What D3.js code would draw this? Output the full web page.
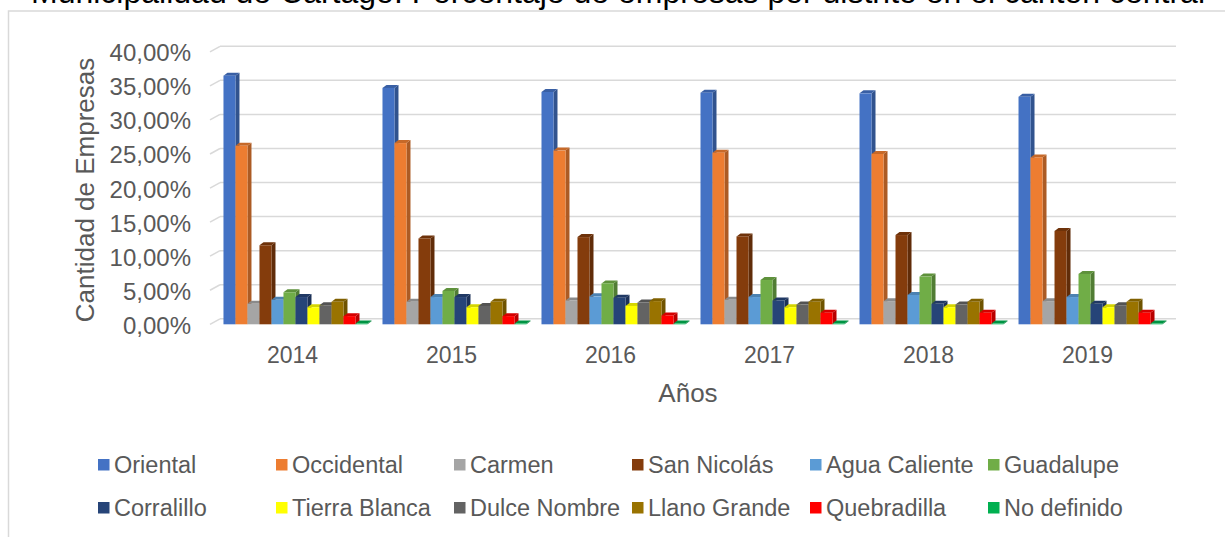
<!DOCTYPE html>
<html>
<head>
<meta charset="utf-8">
<script src="https://cdn.jsdelivr.net/npm/d3@7"></script>
<style>
    body { margin: 0; background: #fff; }
    text { font-family: "Liberation Sans", Arial, sans-serif; fill: #595959; }
</style>
</head>
<body>
<div id="chart"></div>
<script>
var years = ['2014', '2015', '2016', '2017', '2018', '2019'];
var districts = ['Oriental', 'Occidental', 'Carmen', 'San Nicolás', 'Agua Caliente', 'Guadalupe',
    'Corralillo', 'Tierra Blanca', 'Dulce Nombre', 'Llano Grande', 'Quebradilla', 'No definido'];
var colors = ['#4472C4', '#ED7D31', '#A5A5A5', '#843C0C', '#5B9BD5', '#70AD47',
    '#264478', '#FFFF00', '#636363', '#997300', '#FF0000', '#00B050'];

// porcentajes por año (2014..2019)
var oriental     = [36.5, 34.7, 34.1, 34.0, 33.9, 33.4];
var occidental   = [26.2, 26.6, 25.5, 25.2, 25.0, 24.5];
var carmen       = [3.0, 3.3, 3.5, 3.6, 3.4, 3.4];
var sanNicolas   = [11.6, 12.6, 12.8, 12.9, 13.1, 13.7];
var aguaCaliente = [3.6, 4.0, 4.1, 4.0, 4.3, 4.0];
var guadalupe    = [4.7, 4.9, 6.0, 6.5, 7.0, 7.4];
var corralillo   = [4.0, 4.0, 3.9, 3.5, 3.0, 3.0];
var tierraBlanca = [2.5, 2.5, 2.7, 2.5, 2.5, 2.5];
var dulceNombre  = [2.8, 2.7, 3.2, 2.9, 2.9, 2.8];
var llanoGrande  = [3.3, 3.3, 3.4, 3.3, 3.3, 3.3];
var quebradilla  = [1.2, 1.2, 1.3, 1.7, 1.7, 1.7];
var noDefinido   = [0.1, 0.1, 0.1, 0.1, 0.1, 0.1];

var yTicks = [0, 5, 10, 15, 20, 25, 30, 35, 40];

var series = [oriental, occidental, carmen, sanNicolas, aguaCaliente, guadalupe,
    corralillo, tierraBlanca, dulceNombre, llanoGrande, quebradilla, noDefinido];

var W = 1225, H = 537;
var wallDx = 10, wallDy = 5.5;   // profundidad de las paredes
var barDx = 4, barDy = 3;        // profundidad de cada barra

var svg = d3.select('#chart').append('svg')
    .attr('width', W)
    .attr('height', H);

// marco del área del gráfico
svg.append('rect')
    .attr('x', 8.5).attr('y', 11)
    .attr('width', 1300).attr('height', 600)
    .attr('fill', 'none')
    .attr('stroke', '#d9d9d9')
    .attr('stroke-width', 1.5);

svg.append('text')
    .attr('x', 618).attr('y', 3)
    .attr('text-anchor', 'middle')
    .style('font-size', '32px')
    .style('fill', '#000')
    .text('Municipalidad de Cartago: Porcentaje de empresas por distrito en el cantón central');

var x0 = d3.scaleBand()
    .domain(years)
    .range([216, 1170])
    .paddingInner(15 / 159)
    .paddingOuter(0.047);

var x1 = d3.scaleBand()
    .domain(districts)
    .range([0, x0.bandwidth()]);

var y = d3.scaleLinear()
    .domain([0, 40])
    .range([324.3, 51.8]);

var locale = d3.formatLocale({decimal: ',', thousands: '.', grouping: [3], currency: ['', '']});
var fmt = locale.format('.2f');

// líneas de división: pared lateral + pared del fondo
var grid = svg.append('g').attr('class', 'grid');
yTicks.forEach(function(t) {
    var yy = y(t);
    grid.append('line')
        .attr('x1', 210).attr('y1', yy)
        .attr('x2', 210 + wallDx).attr('y2', yy - wallDy)
        .attr('stroke', '#d9d9d9').attr('stroke-width', 1.5);
    grid.append('line')
        .attr('x1', 210 + wallDx).attr('y1', yy - wallDy)
        .attr('x2', 1166 + wallDx).attr('y2', yy - wallDy)
        .attr('stroke', '#d9d9d9').attr('stroke-width', 1.5);
});

svg.append('g').selectAll('text')
    .data(yTicks)
    .join('text')
    .attr('x', 191)
    .attr('y', function(d) { return y(d) + 1; })
    .attr('text-anchor', 'end')
    .attr('dominant-baseline', 'central')
    .style('font-size', '24px')
    .text(function(d) { return fmt(d) + '%'; });

// barras 3D
var bars = svg.append('g').attr('class', 'bars');
years.forEach(function(yr, i) {
    districts.forEach(function(name, j) {
        var v = series[j][i];
        var bx = x0(yr) + x1(name);
        var w = x1.bandwidth();
        var top = y(v), base = y(0);
        var c = d3.color(colors[j]);
        var g = bars.append('g');
        g.append('path')
            .attr('d', 'M' + (bx + w) + ',' + top +
                'L' + (bx + w + barDx) + ',' + (top - barDy) +
                'L' + (bx + w + barDx) + ',' + (base - barDy) +
                'L' + (bx + w) + ',' + base + 'Z')
            .attr('fill', c.darker(0.9));
        g.append('path')
            .attr('d', 'M' + bx + ',' + top +
                'L' + (bx + barDx) + ',' + (top - barDy) +
                'L' + (bx + w + barDx) + ',' + (top - barDy) +
                'L' + (bx + w) + ',' + top + 'Z')
            .attr('fill', c.darker(0.5));
        g.append('rect')
            .attr('x', bx).attr('y', top)
            .attr('width', w).attr('height', base - top)
            .attr('fill', colors[j]);
    });
});

svg.append('g').selectAll('text')
    .data(years)
    .join('text')
    .attr('x', function(d) { return x0(d) + x0.bandwidth() / 2 - 3; })
    .attr('y', 363)
    .attr('text-anchor', 'middle')
    .style('font-size', '23px')
    .text(function(d) { return d; });

svg.append('text')
    .attr('x', 688).attr('y', 402)
    .attr('text-anchor', 'middle')
    .style('font-size', '26px')
    .text('Años');

svg.append('text')
    .attr('transform', 'translate(94,190) rotate(-90)')
    .attr('text-anchor', 'middle')
    .style('font-size', '26px')
    .text('Cantidad de Empresas');

// leyenda en dos filas de seis
var legend = svg.append('g').selectAll('g')
    .data(districts)
    .join('g')
    .attr('transform', function(d, i) {
        return 'translate(' + (98 + (i % 6) * 178) + ',' + (i < 6 ? 465 : 508) + ')';
    });

legend.append('rect')
    .attr('x', 0).attr('y', -6)
    .attr('width', 11.5).attr('height', 11.5)
    .attr('fill', function(d, i) { return colors[i]; });

legend.append('text')
    .attr('x', 16).attr('y', 0)
    .attr('dominant-baseline', 'central')
    .style('font-size', '23.5px')
    .text(function(d) { return d; });
</script>
</body>
</html>
